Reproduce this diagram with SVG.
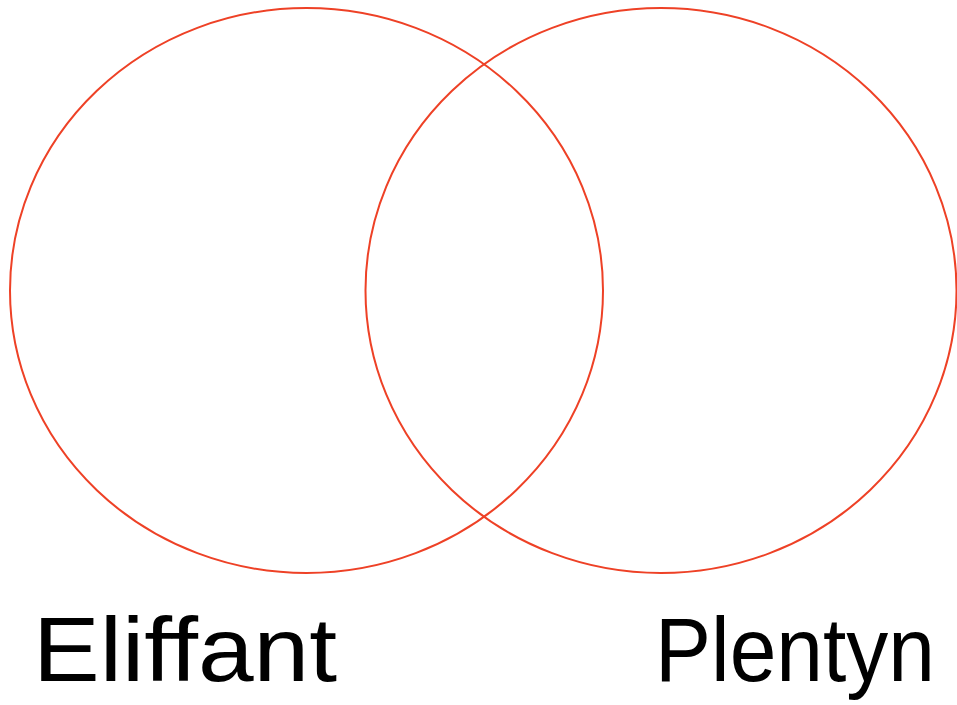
<svg xmlns="http://www.w3.org/2000/svg" width="957" height="705" viewBox="0 0 957 705">
<style>
.set{fill:none;stroke:#ee4126;stroke-width:2}
.lbl{font-family:"Liberation Sans","DejaVu Sans",sans-serif;font-size:90px;fill:#000}
</style>
<rect width="957" height="705" fill="#fff"/>
<g id="set-eliffant">
<ellipse class="set" cx="306.5" cy="290.5" rx="296.5" ry="282.5"/>
<text class="lbl" x="33" y="681" textLength="304" lengthAdjust="spacingAndGlyphs">Eliffant</text>
</g>
<g id="set-plentyn">
<ellipse class="set" cx="661" cy="290.5" rx="295.5" ry="282.5"/>
<text class="lbl" x="655" y="681" textLength="280" lengthAdjust="spacingAndGlyphs">Plentyn</text>
</g>
</svg>
